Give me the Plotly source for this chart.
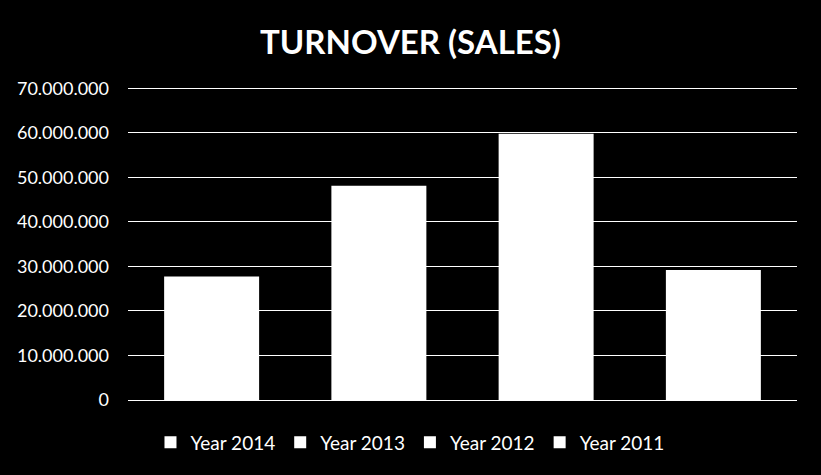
import plotly.graph_objects as go

series_names = ["Year 2014", "Year 2013", "Year 2012", "Year 2011"]
turnover = [27750000, 48100000, 59800000, 29200000]
y_ticks = [0, 10000000, 20000000, 30000000, 40000000, 50000000, 60000000, 70000000]
title_text = "TURNOVER (SALES)"

fig = go.Figure()
for name, val in zip(series_names, turnover):
    fig.add_trace(go.Bar(
        x=[name], y=[val], name=name,
        marker=dict(color="white", line=dict(width=0)),
    ))

fig.update_layout(
    width=821, height=475,
    paper_bgcolor="black", plot_bgcolor="black",
    margin=dict(l=128, r=24, t=86, b=75, autoexpand=False),
    separators=",.",
    barmode="group", bargap=0.432,
    font=dict(family="Lato", color="white", size=18),
    title=dict(text="<b>" + title_text + "</b>", x=0.5, xanchor="center",
               y=1 - 42 / 475, yanchor="middle",
               font=dict(family="Lato", size=33, color="white")),
    showlegend=True,
    legend=dict(orientation="h", x=0.4215, xanchor="center",
                y=-0.135, yanchor="middle",
                font=dict(size=19, color="white"), bgcolor="rgba(0,0,0,0)",
                itemwidth=30, traceorder="normal"),
    xaxis=dict(showticklabels=False, showgrid=False, zeroline=False, showline=False, ticks=""),
    yaxis=dict(range=[0, 70500000], tickvals=y_ticks, tickformat=",d",
               showgrid=True, gridcolor="white", gridwidth=1.3,
               zeroline=True, zerolinecolor="white", zerolinewidth=1.3,
               showline=False, ticks="", ticklabelstandoff=18,
               tickfont=dict(size=18, color="white")),
)

fig.write_html("out.html", config={"displayModeBar": False},
               post_script="document.body.style.margin='0';document.body.style.background='black';")
